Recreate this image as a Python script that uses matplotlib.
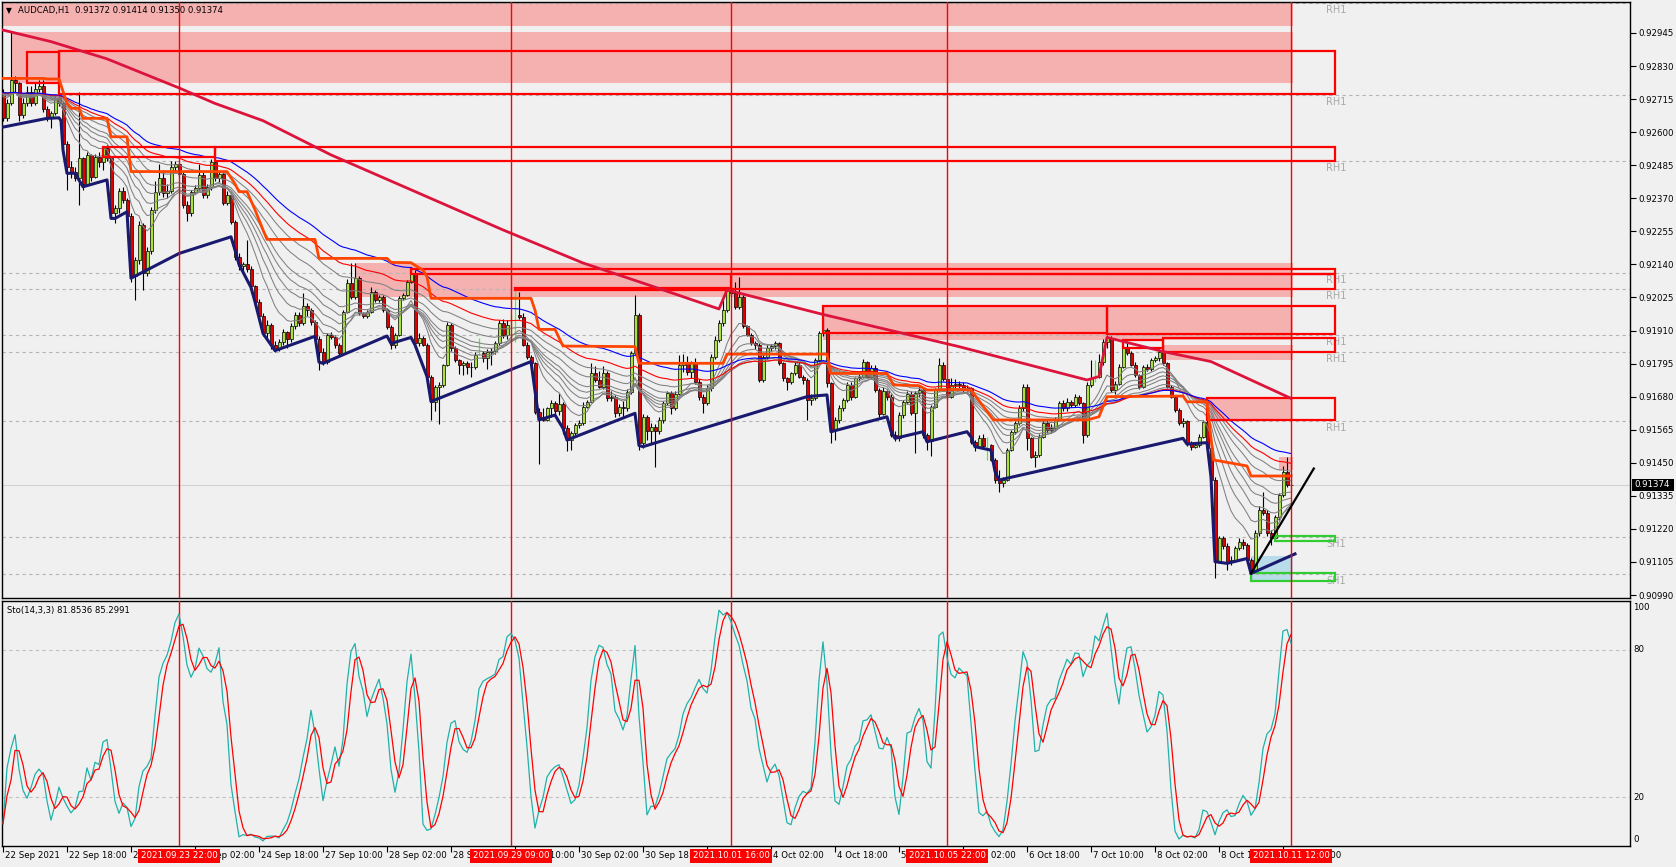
import numpy as np
import pandas as pd
import matplotlib
matplotlib.use("Agg")
import matplotlib.pyplot as plt
from matplotlib.patches import Rectangle

# AUDCAD H1, 22 Sep 02:00 .. 11 Oct 12:00, prices in points: 0.9 + v*1e-5
opens = [
    2740, 2650, 2700, 2780, 2770, 2660, 2700, 2740, 2700, 2750,
    2760, 2680, 2650, 2665, 2720, 2700, 2560, 2480, 2460, 2440,
    2510, 2420, 2521, 2445, 2515, 2495, 2545, 2510, 2320, 2335,
    2395, 2365, 2310, 2100, 2155, 2277, 2109, 2185, 2330, 2393,
    2440, 2390, 2395, 2478, 2490, 2455, 2345, 2320, 2393, 2405,
    2452, 2380, 2410, 2497, 2440, 2455, 2355, 2380, 2289, 2167,
    2135, 2140, 2125, 2065, 2010, 1960, 1900, 1930, 1860, 1845,
    1870, 1905, 1880, 1925, 1965, 1935, 1995, 1980, 1940, 1880,
    1836, 1802, 1894, 1889, 1860, 1831, 1976, 2074, 2028, 2092,
    1970, 1961, 1976, 2045, 2016, 2028, 1981, 1923, 1860, 1894,
    2022, 2034, 2080, 2109, 1865, 1885, 1860, 1750, 1663, 1715,
    1721, 1790, 1929, 1848, 1807, 1790, 1798, 1784, 1782, 1825,
    1831, 1815, 1836, 1840, 1865, 1935, 1894, 1929, 1960, 1964,
    1958, 1860, 1819, 1796, 1628, 1610, 1600, 1640, 1657, 1630,
    1655, 1570, 1529, 1552, 1581, 1587, 1645, 1663, 1761, 1738,
    1715, 1761, 1674, 1680, 1622, 1645, 1640, 1697, 1831, 1964,
    1518, 1610, 1560, 1575, 1560, 1600, 1657, 1692, 1640, 1690,
    1790, 1796, 1765, 1796, 1732, 1680, 1657, 1710, 1819, 1877,
    1935, 1981, 2051, 2040, 1993, 2028, 1925, 1896, 1866, 1860,
    1738, 1819, 1848, 1855, 1866, 1796, 1744, 1732, 1761, 1790,
    1750, 1738, 1668, 1674, 1808, 1900, 1912, 1726, 1564, 1600,
    1640, 1668, 1721, 1680, 1744, 1750, 1800, 1750, 1780, 1703,
    1620, 1700, 1680, 1547, 1535, 1616, 1663, 1690, 1622, 1692,
    1703, 1547, 1525, 1645, 1703, 1790, 1740, 1680, 1720, 1725,
    1721, 1703, 1710, 1523, 1506, 1535, 1510, 1512, 1460, 1390,
    1380, 1390, 1494, 1558, 1587, 1640, 1715, 1535, 1471, 1478,
    1541, 1587, 1565, 1570, 1599, 1657, 1640, 1660, 1652, 1680,
    1657, 1547, 1721, 1744, 1750, 1800, 1870, 1883, 1703, 1725,
    1784, 1854, 1831, 1790, 1755, 1715, 1784, 1777, 1808, 1813,
    1837, 1796, 1715, 1680, 1634, 1587, 1595, 1518, 1506, 1512,
    1541, 1593, 1500, 1390, 1106, 1187, 1160, 1106, 1112, 1153,
    1176, 1165, 1112, 1077, 1205, 1286, 1275, 1205, 1190, 1260,
    1338, 1419, 1372]
highs = [
    2750, 2715, 2948, 2795, 2775, 2720, 2760, 2760, 2770, 2780,
    2780, 2690, 2675, 2730, 2735, 2710, 2570, 2500, 2480, 2740,
    2515, 2530, 2525, 2525, 2530, 2550, 2555, 2515, 2345, 2405,
    2410, 2370, 2320, 2165, 2290, 2285, 2200, 2340, 2430, 2490,
    2470, 2420, 2500, 2500, 2500, 2460, 2360, 2400, 2415, 2490,
    2460, 2420, 2505, 2505, 2465, 2460, 2395, 2385, 2295, 2180,
    2150, 2225, 2135, 2070, 2020, 1970, 1945, 1935, 1875, 1880,
    1915, 1910, 1935, 1975, 1975, 2040, 2005, 1990, 1946, 1890,
    1850, 1900, 1905, 1895, 1865, 1980, 2090, 2144, 2144, 2100,
    1975, 1982, 2060, 2050, 2035, 2035, 1990, 1930, 1900, 2030,
    2040, 2085, 2125, 2120, 1900, 1890, 1865, 1755, 1720, 1730,
    1795, 1940, 1935, 1855, 1812, 1805, 1805, 1800, 1835, 1883,
    1840, 1845, 1850, 1875, 1945, 1950, 1945, 1964, 2055, 2045,
    1970, 1870, 1825, 1800, 1640, 1640, 1645, 1670, 1665, 1692,
    1660, 1580, 1560, 1590, 1600, 1660, 1670, 1796, 1785, 1770,
    1785, 1770, 1700, 1685, 1655, 1665, 1705, 1840, 2034, 1970,
    1620, 1615, 1590, 1585, 1610, 1665, 1700, 1700, 1700, 1826,
    1830, 1820, 1805, 1815, 1740, 1690, 1720, 1830, 1890, 1945,
    2016, 2060, 2108, 2080, 2095, 2035, 1930, 1900, 1875, 1865,
    1825, 1860, 1862, 1875, 1870, 1800, 1750, 1765, 1800, 1800,
    1755, 1745, 1690, 1815, 1910, 1999, 1920, 1730, 1610, 1650,
    1675, 1730, 1730, 1750, 1760, 1810, 1805, 1790, 1790, 1710,
    1712, 1705, 1690, 1560, 1625, 1670, 1700, 1700, 1700, 1720,
    1710, 1555, 1650, 1710, 1815, 1800, 1745, 1745, 1740, 1735,
    1730, 1720, 1715, 1530, 1545, 1550, 1541, 1515, 1465, 1425,
    1400, 1500, 1565, 1595, 1650, 1725, 1725, 1540, 1490, 1550,
    1600, 1600, 1585, 1610, 1665, 1670, 1675, 1670, 1690, 1685,
    1662, 1730, 1808, 1808, 1830, 1880, 1895, 1890, 1735, 1795,
    1877, 1865, 1840, 1800, 1760, 1790, 1795, 1815, 1820, 1845,
    1860, 1800, 1720, 1685, 1640, 1605, 1600, 1525, 1520, 1550,
    1600, 1605, 1510, 1400, 1195, 1195, 1170, 1125, 1160, 1190,
    1185, 1170, 1120, 1215, 1300, 1350, 1285, 1215, 1270, 1345,
    1440, 1470, 1414]
lows = [
    2640, 2640, 2695, 2740, 2640, 2650, 2690, 2690, 2695, 2740,
    2670, 2640, 2615, 2660, 2690, 2540, 2400, 2440, 2430, 2345,
    2400, 2415, 2430, 2440, 2480, 2470, 2500, 2300, 2285, 2320,
    2355, 2300, 2080, 2015, 2140, 2050, 2100, 2175, 2320, 2380,
    2375, 2370, 2390, 2460, 2440, 2335, 2290, 2310, 2385, 2395,
    2370, 2370, 2400, 2430, 2425, 2345, 2345, 2280, 2155, 2120,
    2115, 2115, 2040, 1995, 1950, 1890, 1880, 1845, 1835, 1838,
    1860, 1850, 1870, 1915, 1925, 1930, 1960, 1930, 1870, 1773,
    1790, 1795, 1880, 1850, 1820, 1825, 1970, 2020, 2020, 1965,
    1955, 1955, 1970, 2010, 2010, 1975, 1915, 1845, 1850, 1890,
    2015, 2030, 2075, 1850, 1855, 1855, 1745, 1600, 1630, 1585,
    1715, 1785, 1840, 1800, 1760, 1755, 1760, 1750, 1775, 1825,
    1800, 1775, 1790, 1830, 1860, 1885, 1880, 1871, 1871, 1950,
    1855, 1810, 1790, 1620, 1445, 1595, 1595, 1610, 1615, 1615,
    1550, 1490, 1494, 1540, 1570, 1580, 1640, 1660, 1730, 1710,
    1705, 1665, 1665, 1610, 1612, 1610, 1630, 1690, 1825, 1494,
    1500, 1530, 1520, 1437, 1550, 1590, 1650, 1620, 1635, 1685,
    1765, 1755, 1745, 1725, 1670, 1622, 1650, 1700, 1810, 1870,
    1925, 1975, 2030, 1985, 1985, 1920, 1890, 1860, 1845, 1730,
    1730, 1810, 1840, 1845, 1790, 1735, 1703, 1725, 1755, 1745,
    1725, 1600, 1650, 1670, 1800, 1890, 1715, 1520, 1530, 1590,
    1630, 1660, 1670, 1675, 1735, 1745, 1745, 1740, 1695, 1610,
    1615, 1670, 1540, 1525, 1525, 1605, 1655, 1615, 1485, 1680,
    1535, 1495, 1475, 1640, 1700, 1735, 1670, 1675, 1710, 1705,
    1695, 1690, 1515, 1490, 1500, 1505, 1460, 1455, 1380, 1350,
    1365, 1385, 1490, 1550, 1580, 1630, 1495, 1465, 1437, 1470,
    1535, 1555, 1555, 1560, 1595, 1630, 1630, 1645, 1645, 1650,
    1520, 1540, 1715, 1730, 1745, 1790, 1850, 1695, 1690, 1720,
    1780, 1825, 1785, 1750, 1705, 1710, 1770, 1770, 1800, 1805,
    1790, 1710, 1675, 1625, 1580, 1575, 1510, 1495, 1500, 1505,
    1535, 1490, 1380, 1050, 1100, 1150, 1077, 1095, 1105, 1145,
    1150, 1100, 1045, 1070, 1195, 1268, 1195, 1165, 1180, 1250,
    1330, 1365, 1350]
closes = [
    2650, 2700, 2780, 2770, 2660, 2700, 2740, 2700, 2750, 2760,
    2680, 2650, 2665, 2720, 2700, 2560, 2480, 2460, 2440, 2510,
    2420, 2521, 2445, 2515, 2495, 2545, 2510, 2320, 2335, 2395,
    2365, 2310, 2100, 2155, 2277, 2109, 2185, 2330, 2393, 2440,
    2390, 2395, 2478, 2490, 2455, 2345, 2320, 2393, 2405, 2452,
    2380, 2410, 2497, 2440, 2455, 2355, 2380, 2289, 2167, 2135,
    2140, 2125, 2065, 2010, 1960, 1900, 1930, 1860, 1845, 1870,
    1905, 1880, 1925, 1965, 1935, 1995, 1980, 1940, 1880, 1836,
    1802, 1894, 1889, 1860, 1831, 1976, 2074, 2028, 2092, 1970,
    1961, 1976, 2045, 2016, 2028, 1981, 1923, 1860, 1894, 2022,
    2034, 2080, 2109, 1865, 1885, 1860, 1750, 1663, 1715, 1721,
    1790, 1929, 1848, 1807, 1790, 1798, 1784, 1782, 1825, 1831,
    1815, 1836, 1840, 1865, 1935, 1894, 1929, 1960, 1964, 1958,
    1860, 1819, 1796, 1628, 1610, 1600, 1640, 1657, 1630, 1655,
    1570, 1529, 1552, 1581, 1587, 1645, 1663, 1761, 1738, 1715,
    1761, 1674, 1680, 1622, 1645, 1640, 1697, 1831, 1964, 1518,
    1610, 1560, 1575, 1560, 1600, 1657, 1692, 1640, 1690, 1790,
    1796, 1765, 1796, 1732, 1680, 1657, 1710, 1819, 1877, 1935,
    1981, 2051, 2040, 1993, 2028, 1925, 1896, 1866, 1860, 1738,
    1819, 1848, 1855, 1866, 1796, 1744, 1732, 1761, 1790, 1750,
    1738, 1668, 1674, 1808, 1900, 1912, 1726, 1564, 1600, 1640,
    1668, 1721, 1680, 1744, 1750, 1800, 1750, 1780, 1703, 1620,
    1700, 1680, 1547, 1535, 1616, 1663, 1690, 1622, 1692, 1703,
    1547, 1525, 1645, 1703, 1790, 1740, 1680, 1720, 1725, 1721,
    1703, 1710, 1523, 1506, 1535, 1510, 1512, 1460, 1390, 1380,
    1390, 1494, 1558, 1587, 1640, 1715, 1535, 1471, 1478, 1541,
    1587, 1565, 1570, 1599, 1657, 1640, 1660, 1652, 1680, 1657,
    1547, 1721, 1744, 1750, 1800, 1870, 1883, 1703, 1725, 1784,
    1854, 1831, 1790, 1755, 1715, 1784, 1777, 1808, 1813, 1837,
    1796, 1715, 1680, 1634, 1587, 1595, 1518, 1506, 1512, 1541,
    1593, 1500, 1390, 1106, 1187, 1160, 1106, 1112, 1153, 1176,
    1165, 1112, 1077, 1205, 1286, 1275, 1205, 1190, 1260, 1338,
    1419, 1372, 1374]
lime_bars = [119, 127, 128, 246, 273]

# indicator lines (bar index, points)
crimson_x = [-0.25, 12, 26, 44, 53, 65, 82, 125, 145, 160, 179, 181, 205, 239, 271, 274, 276, 290, 302, 322]
crimson_y = [2956, 2915, 2855, 2754, 2700, 2640, 2521, 2260, 2145, 2075, 1985, 2051, 1966, 1854, 1738,
             1750, 1886, 1837, 1802, 1674]
navy_x = [-0.25, 11, 14, 14.5, 15, 16, 18, 20, 26, 27, 28, 31, 32, 44, 57, 58, 59, 62, 63, 65, 67, 68,
          78, 79, 80, 96, 97, 102, 103, 106, 107, 132, 133, 134, 138, 140, 141, 158, 159, 160, 201,
          206, 207, 221, 222, 223, 230, 231, 241, 242, 243, 247, 248, 249, 295, 296, 301, 302, 303,
          306, 311, 312, 323]
navy_y = [2617, 2648, 2650, 2640, 2538, 2457, 2457, 2410, 2434, 2300, 2300, 2323, 2092, 2178, 2236,
          2190, 2140, 2060, 2010, 1900, 1860, 1840, 1890, 1800, 1796, 1891, 1865, 1886, 1860, 1750,
          1663, 1802, 1700, 1599, 1616, 1570, 1529, 1622, 1510, 1506, 1680, 1686, 1558, 1610, 1560,
          1535, 1558, 1523, 1558, 1540, 1506, 1494, 1420, 1390, 1535, 1515, 1520, 1400, 1106, 1100,
          1117, 1065, 1133]
orange_x = [-0.25, 10, 11, 14, 16, 17, 19, 20, 26, 27, 31, 32, 56, 58, 59, 61, 63, 65, 66, 78, 79, 96,
            97, 102, 105, 106, 107, 132, 133, 134, 138, 140, 158, 159, 180, 181, 206, 207, 221, 222.6,
            229, 231, 239, 242, 247.6, 271, 274, 276, 295, 296, 301, 302.6, 311, 312, 322]
orange_y = [2787, 2787, 2785, 2785, 2700, 2683, 2683, 2648, 2648, 2584, 2584, 2463, 2463, 2420, 2393,
            2393, 2330, 2260, 2227, 2227, 2161, 2161, 2147, 2146, 2120, 2097, 2022, 2022, 1981, 1914,
            1914, 1856, 1854, 1796, 1796, 1828, 1828, 1761, 1761, 1721, 1718, 1703, 1705, 1703, 1599,
            1599, 1610, 1680, 1682, 1662, 1662, 1460, 1439, 1404, 1404]
trend_x = [312, 327.7]
trend_y = [1065, 1430]

# zones: (start bar, top, bottom) filled to the last bar; outlines (start, end, top, bottom)
fill_zones = [(-0.25, 3080, 2970), (2, 2950, 2770), (88, 2144, 2028), (205, 1999, 1877),
              (290, 1860, 1808), (301, 1677, 1599), (319, 1471, 1425)]
red_boxes = [(6, 14, 2880, 2770), (14, 333, 2884, 2733), (25, 53, 2549, 2515), (53, 333, 2549, 2501),
             (102, 333, 2123, 2108), (182, 333, 2108, 2053), (128, 182, 2057, 2052),
             (205, 276, 1997, 1900), (276, 333, 1997, 1897), (280, 290, 1877, 1850),
             (290, 333, 1883, 1837), (301, 333, 1677, 1599)]
green_boxes = [(318, 333, 1195, 1179), (312, 333, 1065, 1040)]
blue_fill = (312, 1124, 1040)

levels = [0.93050, 0.92728, 0.92499, 0.92109, 0.92053, 0.91893, 0.91835, 0.91596, 0.91191, 0.91062]
level_names = ["RH1"] * 8 + ["SH1"] * 2

price_ticks = [0.92945, 0.92830, 0.92715, 0.92600, 0.92485, 0.92370, 0.92255, 0.92140, 0.92025,
               0.91910, 0.91795, 0.91680, 0.91565, 0.91450, 0.91335, 0.91220, 0.91105, 0.90990]
time_ticks = [0, 16, 32, 48, 64, 80, 96, 112, 128, 144, 160, 176, 192, 208, 224, 240, 256, 272, 288, 304, 320]
time_labels = ["22 Sep 2021", "22 Sep 18:00", "23 Sep 10:00", "24 Sep 02:00", "24 Sep 18:00",
               "27 Sep 10:00", "28 Sep 02:00", "28 Sep 18:00", "29 Sep 10:00", "30 Sep 02:00",
               "30 Sep 18:00", "1 Oct 10:00", "4 Oct 02:00", "4 Oct 18:00", "5 Oct 10:00",
               "6 Oct 02:00", "6 Oct 18:00", "7 Oct 10:00", "8 Oct 02:00", "8 Oct 18:00", "11 Oct 10:00"]
marker_bars = [44, 127, 182, 236, 322]
marker_labels = ["2021.09.23 22:00", "2021.09.29 09:00", "2021.10.01 16:00",
                 "2021.10.05 22:00", "2021.10.11 12:00"]

# ---------------------------------------------------------------------------
W, H = 1676, 867
BG = "#F0F0F0"
plt.rcParams["font.family"] = ["DejaVu Sans"]


def pr(v):
    return 0.9 + np.asarray(v, dtype=float) * 1e-5


def fx(px):
    return px / W


def fy(py):
    return 1 - py / H


O, Hh, L, C = pr(opens), pr(highs), pr(lows), pr(closes)
n = len(C)
x = np.arange(n)
last = n - 1 + 0.5

fig = plt.figure(figsize=(W / 100, H / 100), dpi=100, facecolor=BG)
ax = fig.add_axes([fx(2), fy(598), 1628 / W, 596 / H], facecolor=BG)
ax2 = fig.add_axes([fx(2), fy(846), 1628 / W, 245 / H], facecolor=BG)
for a in (ax, ax2):
    a.set_xlim(-0.25, 406.75)
    for s in a.spines.values():
        s.set_color("black"); s.set_linewidth(1.0)
ax.set_ylim(0.909796, 0.930528)
ax2.set_ylim(0, 100)

# zones
for s, top, bot in fill_zones:
    ax.add_patch(Rectangle((s, pr(bot)), last - s, pr(top) - pr(bot), facecolor="#F5B0B0",
                           edgecolor="none", zorder=1))
bs, btop, bbot = blue_fill
ax.add_patch(Rectangle((bs, pr(bbot)), last - bs, pr(btop) - pr(bbot), facecolor="#B9DCEA",
                       edgecolor="none", zorder=1))
for s, e, top, bot in red_boxes:
    ax.add_patch(Rectangle((s, pr(bot)), e - s, pr(top) - pr(bot), fill=False,
                           edgecolor="#FF0000", linewidth=1.6, zorder=5))
for s, e, top, bot in green_boxes:
    ax.add_patch(Rectangle((s, pr(bot)), e - s, pr(top) - pr(bot), fill=False,
                           edgecolor="#32CD32", linewidth=1.6, zorder=5))

# level lines
for lv, name in zip(levels, level_names):
    ax.axhline(lv, color="#B4B4B4", lw=0.8, ls=(0, (3, 3)), zorder=2)
    ax.annotate(name, xy=(330.75, lv), xytext=(0, -5), textcoords="offset points",
                va="center", ha="left", fontsize=7, color="#A8A8A8", zorder=2,
                annotation_clip=False)
ax.axhline(pr(closes[-1]), color="#D2D2D2", lw=0.8, zorder=2)

# candles
lime = np.isin(x, lime_bars)
ax.vlines(x[~lime], L[~lime], Hh[~lime], color="black", lw=0.8, zorder=3)
ax.vlines(x[lime], L[lime], Hh[lime], color="#33FF33", lw=0.9, zorder=3)
up = (C >= O) & ~lime
dn = (C < O) & ~lime
body_h = np.maximum(np.abs(C - O), 0.000012)
ax.bar(x[up], body_h[up], bottom=np.minimum(O, C)[up], width=0.75, color="#A8E23A",
       edgecolor="black", linewidth=0.5, zorder=3)
ax.bar(x[dn], body_h[dn], bottom=np.minimum(O, C)[dn], width=0.75, color="#E00000",
       edgecolor="black", linewidth=0.5, zorder=3)

# moving-average fan
cs = pd.Series(np.r_[O[0], C])
for p in [10, 15, 20, 25, 30, 40, 50]:
    ax.plot(x, cs.ewm(span=p, adjust=False).mean().values[1:], color="#808080", lw=0.75, zorder=4)
ax.plot(x, cs.ewm(span=60, adjust=False).mean().values[1:], color="#FF0000", lw=0.8, zorder=4)
ax.plot(x, cs.ewm(span=75, adjust=False).mean().values[1:], color="#0000FF", lw=0.8, zorder=4)

ax.plot(crimson_x, pr(crimson_y), color="#DC143C", lw=2.0, zorder=6)
ax.plot(navy_x, pr(navy_y), color="#191970", lw=2.2, zorder=6)
ax.plot(orange_x, pr(orange_y), color="#FF4500", lw=2.0, zorder=6)
ax.plot(trend_x, pr(trend_y), color="black", lw=1.6, zorder=7)

for mb in marker_bars:
    ax.axvline(mb, color="#FF0000", lw=1.0, zorder=6)
    ax2.axvline(mb, color="#FF0000", lw=1.0, zorder=3)

# price axis
ax.set_xticks([])
ax.yaxis.tick_right()
ax.set_yticks(price_ticks)
ax.set_yticklabels([f"{t:.5f}" for t in price_ticks], fontsize=6.2)
ax.tick_params(axis="y", length=4, width=0.8, pad=2, direction="out", colors="black")

# stochastic (14,3,3)
cser, hser, lser = pd.Series(C), pd.Series(Hh), pd.Series(L)
ll = lser.rolling(14, min_periods=1).min()
hh = hser.rolling(14, min_periods=1).max()
k_main = 100 * (cser - ll).rolling(3, min_periods=1).sum() / (hh - ll).rolling(3, min_periods=1).sum()
k_sig = k_main.rolling(3, min_periods=1).mean()
ax2.axhline(80, color="#C0C0C0", lw=0.8, ls=(0, (3, 3)))
ax2.axhline(20, color="#C0C0C0", lw=0.8, ls=(0, (3, 3)))
ax2.plot(x, k_main, color="#20B2AA", lw=0.9, zorder=4)
ax2.plot(x, k_sig, color="#FF0000", lw=0.9, zorder=4)
ax2.set_yticks([])
ax2.set_xticks(time_ticks)
ax2.tick_params(axis="x", length=4, width=0.8, direction="out", labelbottom=False)

# texts
fig.text(fx(6), fy(10.5), "\u25bc", fontsize=5.5, va="center", ha="left")
fig.text(fx(18), fy(10.5), "AUDCAD,H1  0.91372 0.91414 0.91350 0.91374", fontsize=6.1,
         va="center", ha="left")
fig.text(fx(7), fy(610), "Sto(14,3,3) 81.8536 85.2991", fontsize=6.1, va="center", ha="left")
for lab, py in zip(["100", "80", "20", "0"], [607, 650, 797, 839]):
    fig.text(fx(1633), fy(py), lab, fontsize=6.2, va="center", ha="left")

# time axis; the red marker tags sit on top of the regular labels as in the terminal
for t, lab in zip(time_ticks, time_labels):
    fig.text(fx(3 + 4 * t + 2), fy(856), lab, fontsize=6.2, va="center", ha="left", zorder=3)
for mb, lab in zip(marker_bars, marker_labels):
    cx = 3 + 4 * mb
    fig.patches.append(Rectangle((fx(cx - 41), fy(863)), 82 / W, 14 / H, transform=fig.transFigure,
                                 facecolor="#FF0000", edgecolor="none", zorder=4))
    fig.text(fx(cx), fy(856), lab, fontsize=6.2, color="white", va="center", ha="center", zorder=5)

cur_y = 33 + (0.92945 - pr(closes[-1])) * 28748
fig.patches.append(Rectangle((fx(1632), fy(cur_y + 6)), 42 / W, 12 / H, transform=fig.transFigure,
                             facecolor="black", edgecolor="none", zorder=4))
fig.text(fx(1634), fy(cur_y), "0.91374", fontsize=6.2, color="white", va="center", ha="left", zorder=5)

fig.savefig("out.png", dpi=100, facecolor=BG)
